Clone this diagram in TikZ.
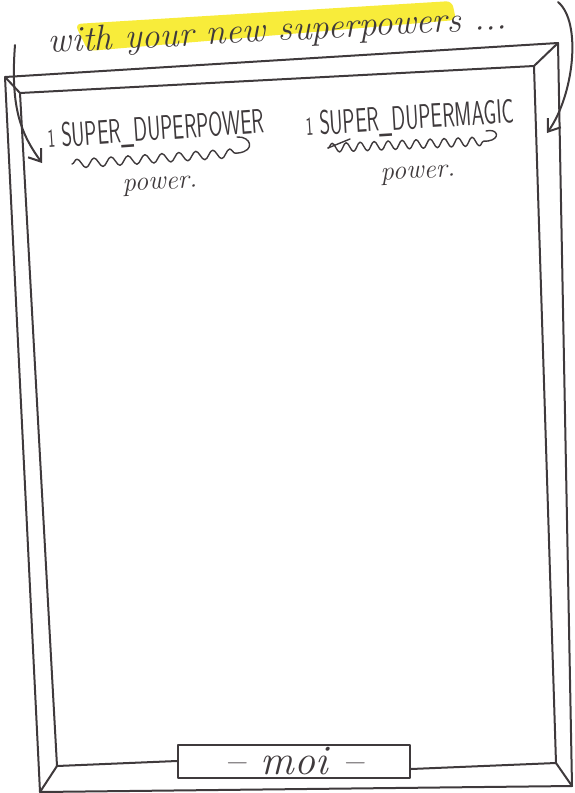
\documentclass[tikz,border=0pt]{standalone}
\usetikzlibrary{arrows.meta,decorations.pathmorphing}
\definecolor{ink}{HTML}{3F3A3C}
\definecolor{marker}{HTML}{F8EC3A}
\newcommand{\handfont}[1]{\fontsize{#1}{#1}\selectfont\itshape}
\newcommand{\capsfont}[1]{\fontsize{#1}{#1}\selectfont\sffamily}

\begin{document}
\begin{tikzpicture}[x=1pt,y=-1pt,>={Straight Barb[length=11pt,width=16pt]},ink,line width=2pt,line cap=round,line join=round,
  squiggle/.style={decorate,decoration={snake,segment length=#1,amplitude=4.5pt},line width=1.4pt},
  lbl/.style={inner sep=0pt,rotate=4}]
  \useasboundingbox (0,0) rectangle (575,793);
  \fill[marker,rounded corners=6pt] (75,24) -- (452,1) -- (456,20) -- (88,51) -- cycle;
  \node[anchor=base west,rotate=3,inner sep=0pt] (title) at (48,53) {\handfont{36}with your new superpowers ...};
  \coordinate (otl) at (5,77);   \coordinate (otr) at (558,43);
  \coordinate (obr) at (572,786); \coordinate (obl) at (40,792);
  \coordinate (itl) at (20,93);  \coordinate (itr) at (534,66);
  \coordinate (ibr) at (556,763); \coordinate (ibl) at (57,766);
  \node[draw,minimum width=232pt,minimum height=33pt,inner sep=0pt] (moi) at (294,761) {\handfont{42}-- moi --};
  \draw (otl) -- (otr) -- (obr) -- (obl) -- cycle;
  \draw (itl) -- (itr) -- (ibr);
  \draw (itl) -- (ibl) -- (moi.west);
  \draw ([yshift=-8pt]moi.east) -- (ibr);
  \foreach \c in {tl,tr,br,bl} \draw (o\c) -- (i\c);
  \coordinate (ls) at (15,45);   \coordinate (le) at (42,163);
  \coordinate (rs) at (558,2);   \coordinate (re) at (547,133);
  \draw[->] (ls) .. controls (10,110) and (22,135) .. (le);
  \draw[->] (rs) .. controls (582,22) and (574,95) .. (re);
  \node[lbl] (sdp) at (156,131) {\capsfont{34}\scalebox{0.6}[1]{{\fontsize{26}{26}\selectfont 1} SUPER\_DUPERPOWER}};
  \node[lbl,rotate=-0.5] (sdm) at (410,120) {\capsfont{34}\scalebox{0.6}[1]{{\fontsize{26}{26}\selectfont 1} SUPER\_DUPERMAGIC}};
  \draw[squiggle=17pt] (72,164) -- (238,153);
  \draw[line width=1.4pt] (238,153) .. controls (256,151) and (251,136) .. (237,137);
  \draw[line width=1.4pt] (350,139) -- (328,148);
  \draw[squiggle=14pt] (328,148) -- (488,141);
  \draw[line width=1.4pt] (488,141) .. controls (501,139) and (498,128) .. (486,131);
  \node[inner sep=0pt,rotate=3] (pw1) at (160,186) {\handfont{27}power.};
  \node[inner sep=0pt,rotate=3] (pw2) at (418,175) {\handfont{27}power.};
\end{tikzpicture}
\end{document}
